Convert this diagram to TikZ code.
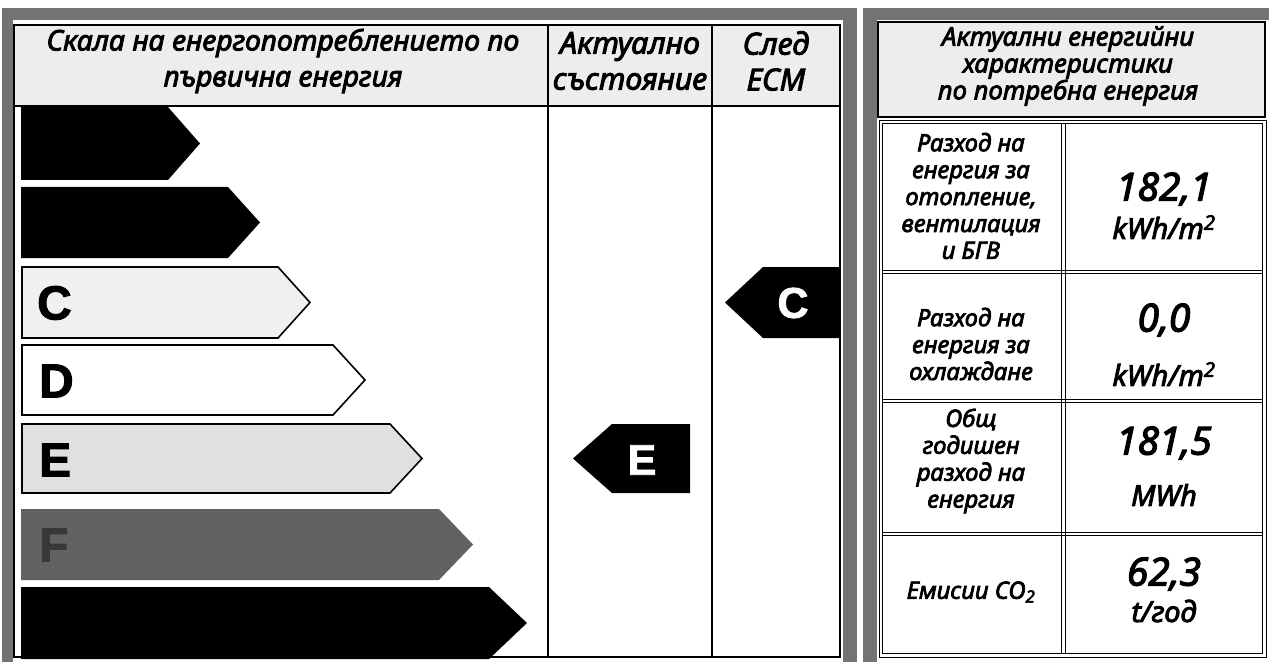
\documentclass[tikz,border=0pt]{standalone}
\usepackage{fontspec}
\newfontfamily\bgfont{Noto Sans}[Script=Cyrillic,Language=Bulgarian,ItalicFeatures={FakeBold=3}]
\newfontfamily\lettfont{Liberation Sans}[FakeBold=2]
\newcommand\hdfont{\bgfont\itshape\fontsize{28.5}{36}\selectfont}
\newcommand\hdbfont{\bgfont\itshape\fontsize{30.5}{36}\selectfont}
\newcommand\rhfont{\bgfont\itshape\fontsize{26}{27}\selectfont}
\newcommand\lbfont{\bgfont\itshape\fontsize{24}{27}\selectfont}
\newcommand\valfont{\bgfont\itshape\fontsize{39}{39}\selectfont}
\newcommand\unitfont{\bgfont\itshape\fontsize{29}{29}\selectfont}
\begin{document}
\begin{tikzpicture}[x=1bp,y=-1bp,
  band/.style={fill=black!55},
  hdrfill/.style={fill=black!7},
  tline/.style={line width=1.3bp,black},
  dl/.style={line width=0.9bp,black},
  hd/.style={align=center,inner sep=0pt,font=\hdfont},
  hdb/.style={align=center,inner sep=0pt,font=\hdbfont},
  rh/.style={align=center,inner sep=0pt,font=\rhfont},
  lb/.style={align=center,inner sep=0pt,font=\lbfont},
  val/.style={align=center,inner sep=0pt,font=\valfont},
  unit/.style={align=center,inner sep=0pt,font=\unitfont},
  blackarrow/.style={fill=black},
  lightarrow/.style={fill=#1,draw=black,line width=1.6bp},
  rowletter/.style={anchor=west,inner sep=0pt,font=\lettfont\bfseries\fontsize{48}{48}\selectfont},
  markletter/.style={inner sep=0pt,text=white,font=\lettfont\bfseries\fontsize{43}{43}\selectfont}
]
\useasboundingbox (0,0) rectangle (1269,662);
\fill[white] (0,0) rectangle (1269,662);
% gray frames
\fill[band] (2,8) rectangle (857,662);
\fill[white] (13,20) rectangle (843,662);
\fill[band] (863,8) rectangle (1269,662);
\fill[white] (877,20) rectangle (1269,662);

% ---------- left table ----------
\fill[hdrfill] (14,25) rectangle (840,106);
\draw[tline] (14,25) rectangle (840,657);
\draw[tline] (14,106) -- (840,106);
\draw[tline] (548,25) -- (548,657);
\draw[tline] (712,25) -- (712,657);

\node[hd] (hscale) at (283,61) {Скала на енергопотреблението по\\първична енергия};
\node[hdb] (hnow) at (630,61) {Актуално\\състояние};
\node[hdb] (hafter) at (776,61) {След\\ЕСМ};

% energy class arrows
\fill[blackarrow] (21,107) -- (168,107) -- (200,143.5) -- (168,180) -- (21,180) -- cycle;
\fill[blackarrow] (21,187) -- (228,187) -- (260,222.5) -- (228,258) -- (21,258) -- cycle;
\filldraw[lightarrow=black!6] (22,267) -- (278,267) -- (310,302.5) -- (278,338) -- (22,338) -- cycle;
\filldraw[lightarrow=white] (22,345) -- (333,345) -- (365,380) -- (333,415) -- (22,415) -- cycle;
\filldraw[lightarrow=black!12] (22,424) -- (390,424) -- (422,458.5) -- (390,493) -- (22,493) -- cycle;
\fill[fill=black!62] (21,509) -- (439,509) -- (473,544.5) -- (439,580) -- (21,580) -- cycle;
\fill[blackarrow] (21,587) -- (489,587) -- (527,623) -- (489,659) -- (21,659) -- cycle;

\node[rowletter] (lC) at (37,303) {C};
\node[rowletter] (lD) at (39,381) {D};
\node[rowletter] (lE) at (39,460) {E};
\node[rowletter,text=black!78] (lF) at (39,545) {F};

% markers
\fill[black] (840,267) -- (763,267) -- (725,302.5) -- (763,338) -- (840,338) -- cycle;
\node[markletter] (mC) at (793,303) {C};
\fill[black] (690,424) -- (612,424) -- (573,458.5) -- (612,493) -- (690,493) -- cycle;
\node[markletter] (mE) at (642,460) {E};

% ---------- right table ----------
\fill[hdrfill] (878,22) rectangle (1265,117);
\draw[line width=1.2bp] (878,22) rectangle (1265,117);
\node[rh] (rhead) at (1068,66) {Актуални енергийни\\характеристики\\по потребна енергия};

% double-line grid
\draw[dl] (879,120) rectangle (1266,657);
\draw[dl] (882.5,123.5) rectangle (1262.5,653.5);
\draw[dl] (1061.5,123.5) -- (1061.5,653.5);
\draw[dl] (1065,123.5) -- (1065,653.5);
\foreach \yy [count=\k] in {272,401,534}{
  \draw[dl] (882.5,\yy-1.7) -- (1262.5,\yy-1.7);
  \draw[dl] (882.5,\yy+1.7) -- (1262.5,\yy+1.7);
}

\node[lb] (l1) at (971,196) {Разход на\\енергия за\\отопление,\\вентилация\\и БГВ};
\node[val] (v1) at (1164,189) {182,1};
\node[unit] (u1) at (1164,227) {kWh/m\textsuperscript{2}};

\node[lb] (l2) at (971,344) {Разход на\\енергия за\\охлаждане};
\node[val] (v2) at (1164,320) {0,0};
\node[unit] (u2) at (1164,374) {kWh/m\textsuperscript{2}};

\node[lb] (l3) at (971,461) {Общ\\годишен\\разход на\\енергия};
\node[val] (v3) at (1164,443) {181,5};
\node[unit] (u3) at (1164,495) {MWh};

\node[lb] (l4) at (971,592) {Емисии CO\textsubscript{2}};
\node[val] (v4) at (1164,574) {62,3};
\node[unit] (u4) at (1164,611) {t/год};
\end{tikzpicture}
\end{document}
